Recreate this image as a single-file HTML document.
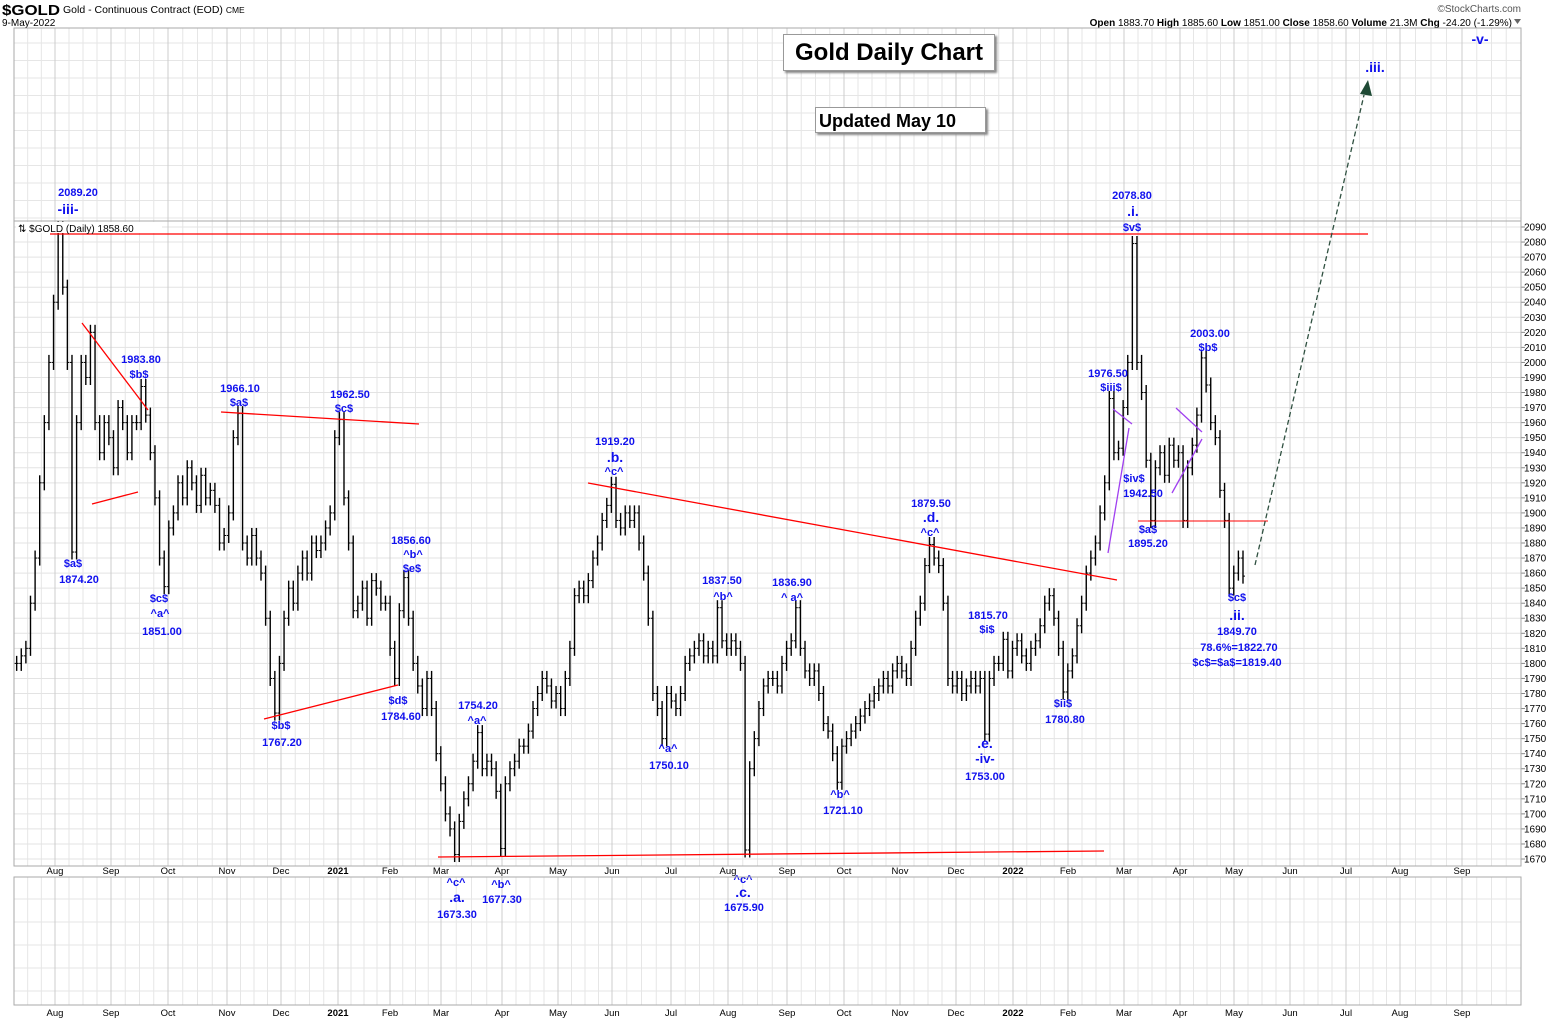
<!DOCTYPE html>
<html><head><meta charset="utf-8"><title>Gold Daily Chart</title>
<style>
body{margin:0;background:#fff;}
#wrap{position:relative;width:1565px;height:1021px;overflow:hidden;background:#fff;font-family:"Liberation Sans",sans-serif;}
svg{position:absolute;left:0;top:0;}
</style></head>
<body>
<div id="wrap">
<svg id="chart" width="1565" height="1021" xmlns="http://www.w3.org/2000/svg">
  <text x="2" y="15" font-family="Liberation Sans, sans-serif" font-weight="bold" font-size="15" textLength="58" lengthAdjust="spacingAndGlyphs" fill="#000">$GOLD</text>
  <text x="63" y="13" font-size="10.5" fill="#000">Gold - Continuous Contract (EOD) <tspan font-size="8.5">CME</tspan></text>
  <text x="2" y="26" font-size="10" fill="#000">9-May-2022</text>
  <text x="1521" y="12" font-size="10" fill="#555" text-anchor="end">©StockCharts.com</text>
  <text x="1512" y="26" font-size="10" fill="#000" text-anchor="end"><tspan font-weight="bold">Open</tspan> 1883.70  <tspan font-weight="bold">High</tspan> 1885.60  <tspan font-weight="bold">Low</tspan> 1851.00  <tspan font-weight="bold">Close</tspan> 1858.60  <tspan font-weight="bold">Volume</tspan> 21.3M  <tspan font-weight="bold">Chg</tspan> -24.20 (-1.29%)</text>
  <path d="M1514,19 L1521,19 L1517.5,24 Z" fill="#666"/>
  <g id="grid"></g>
  <g id="bars"></g>
  <g id="lines"></g>
  <g id="ann"></g>
  <g id="axes"></g>
</svg>
<div style="position:absolute;left:783px;top:34px;width:210px;height:35px;border:1px solid #999;box-shadow:2px 2px 2px #888;background:#fff;font-weight:bold;font-size:24px;line-height:35px;text-align:center;">Gold Daily Chart</div>
<div style="position:absolute;left:815px;top:107px;width:171px;height:26px;border:1px solid #999;box-shadow:2px 2px 2px #888;background:#fff;font-weight:bold;font-size:18px;line-height:26px;padding-left:3px;box-sizing:border-box;">Updated May 10</div>
</div>
<script>
// ---- data ----
const closes = [1790,1795,1800,1795,1805,1800,1800,1805,1810,1840,1870,1920,1960,2000,2040,2089,2050,2000,1874,1960,2000,1990,2020,1960,1940,1960,1950,1930,1970,1960,1940,1960,1960,1984,1965,1940,1910,1870,1851,1890,1900,1920,1910,1930,1920,1905,1925,1910,1915,1905,1880,1885,1900,1950,1966,1880,1870,1885,1870,1860,1830,1790,1767,1800,1830,1850,1840,1860,1870,1860,1880,1875,1880,1890,1900,1950,1962,1910,1880,1835,1840,1850,1830,1855,1850,1840,1840,1810,1790,1835,1857,1830,1800,1785,1770,1790,1770,1740,1720,1700,1690,1673,1695,1710,1720,1735,1754,1730,1735,1730,1715,1677,1720,1730,1735,1745,1745,1755,1770,1780,1790,1785,1775,1780,1770,1790,1810,1845,1850,1845,1855,1870,1880,1895,1905,1919,1895,1890,1900,1895,1900,1880,1860,1830,1780,1770,1750,1780,1775,1770,1780,1800,1805,1810,1815,1805,1810,1805,1837,1815,1810,1815,1810,1800,1676,1730,1750,1770,1785,1790,1790,1785,1800,1810,1815,1837,1810,1795,1790,1795,1780,1760,1755,1740,1721,1745,1750,1755,1760,1765,1770,1775,1780,1785,1790,1785,1795,1800,1795,1790,1810,1830,1840,1865,1879,1870,1865,1840,1790,1785,1790,1780,1785,1790,1785,1790,1753,1790,1800,1800,1816,1795,1810,1815,1805,1800,1810,1815,1825,1840,1845,1830,1810,1781,1795,1805,1825,1840,1860,1870,1880,1900,1920,1976,1940,1943,1970,2000,2079,2000,1980,1935,1895,1930,1940,1925,1945,1935,1940,1895,1930,1945,1965,2003,1985,1960,1950,1915,1895,1850,1860,1870,1858];
const priceTicks = [2090,2080,2070,2060,2050,2040,2030,2020,2010,2000,1990,1980,1970,1960,1950,1940,1930,1920,1910,1900,1890,1880,1870,1860,1850,1840,1830,1820,1810,1800,1790,1780,1770,1760,1750,1740,1730,1720,1710,1700,1690,1680,1670];
const monthLabels = ["Aug","Sep","Oct","Nov","Dec","2021","Feb","Mar","Apr","May","Jun","Jul","Aug","Sep","Oct","Nov","Dec","2022","Feb","Mar","Apr","May","Jun","Jul","Aug","Sep"];
const monthX = [55,111,168,227,281,338,390,441,502,558,612,671,728,787,844,900,956,1013,1068,1124,1180,1234,1290,1346,1400,1462];

// ---- scales ----
const X0=-11, X1=1243;
function xi(i){return X0+i*(X1-X0)/(closes.length-1);}
function y(p){return 227+(2090-p)*1.5048;}
const NS="http://www.w3.org/2000/svg";
function mk(tag,attrs,parent){const e=document.createElementNS(NS,tag);for(const k in attrs)e.setAttribute(k,attrs[k]);parent.appendChild(e);return e;}
const grid=document.getElementById('grid'),bars=document.getElementById('bars'),lines=document.getElementById('lines'),ann=document.getElementById('ann'),axes=document.getElementById('axes');

for(let m=0;m<monthX.length;m++){
  const a=monthX[m], b=(m+1<monthX.length)?monthX[m+1]:1521;
  for(let k=1;k<4;k++){const gx=a+(b-a)*k/4; if(gx<1521){
    let l=mk('line',{x1:gx,x2:gx,y1:28,y2:866,stroke:'#e6e6e6','stroke-width':1},grid);
    
    let l2=mk('line',{x1:gx,x2:gx,y1:877,y2:1005,stroke:'#e6e6e6','stroke-width':1},grid);
    }}
}
{const a=14,b=55;for(let k=1;k<3;k++){const gx=a+(b-a)*k/3;mk('line',{x1:gx,x2:gx,y1:28,y2:866,stroke:'#e6e6e6'},grid);mk('line',{x1:gx,x2:gx,y1:877,y2:1005,stroke:'#e6e6e6'},grid);}}
for(let gy=43;gy<221;gy+=17.5){const l=mk('line',{x1:14,x2:1521,y1:gy,y2:gy,stroke:'#e6e6e6'},grid);}
for(let gy=899;gy<1005;gy+=23){const l=mk('line',{x1:14,x2:1521,y1:gy,y2:gy,stroke:'#e6e6e6'},grid);}
priceTicks.forEach(p=>{
  const l=mk('line',{x1:14,x2:1521,y1:y(p),y2:y(p),stroke:'#e3e3e3'},grid);
  
  mk('line',{x1:1521,x2:1525,y1:y(p),y2:y(p),stroke:'#888'},axes);
  const t=mk('text',{x:1524,y:y(p)+3.5,'font-size':10,fill:'#000'},axes);t.textContent=p;
  
});
monthLabels.forEach((s,m)=>{
  const gx=monthX[m];
  const l=mk('line',{x1:gx,x2:gx,y1:28,y2:866,stroke:'#cccccc'},grid);
  
  mk('line',{x1:gx,x2:gx,y1:877,y2:1005,stroke:'#cccccc'},grid);
  const t=mk('text',{x:gx,y:874,'font-size':9.5,'text-anchor':'middle',fill:'#000','font-weight':s.length===4?'bold':'normal'},axes);t.textContent=s;
  
  const t2=mk('text',{x:gx,y:1016,'font-size':9.5,'text-anchor':'middle',fill:'#000','font-weight':s.length===4?'bold':'normal'},axes);t2.textContent=s;
  
});
let f=mk('rect',{x:14,y:28,width:1507,height:838,fill:'none',stroke:'#aaa'},axes);
f=mk('line',{x1:14,x2:1521,y1:221,y2:221,stroke:'#aaa'},axes);
f=mk('rect',{x:14,y:877,width:1507,height:128,fill:'none',stroke:'#aaa'},axes);
f=mk('rect',{x:16,y:222,width:146,height:11,fill:'#fff'},axes);
f=mk('text',{x:18,y:232,'font-size':10,fill:'#000'},axes);f.textContent='⇅ $GOLD (Daily) 1858.60';


closes.forEach((c,i)=>{
  const pv=i>0?closes[i-1]:c;
  const x=xi(i);
  if(x<16) return;
  const hi=Math.max(pv,c)+5, lo=Math.min(pv,c)-5;
  const b=mk('line',{x1:x,x2:x,y1:y(hi),y2:y(lo),stroke:'#000','stroke-width':1.4},bars);
  
  mk('line',{x1:x,x2:x+2,y1:y(c),y2:y(c),stroke:'#000','stroke-width':1},bars);
  mk('line',{x1:x-2,x2:x,y1:y(pv),y2:y(pv),stroke:'#000','stroke-width':1},bars);
});

function ln(x1,y1,x2,y2,col,name,w){const l=mk('line',{x1,y1,x2,y2,stroke:col,'stroke-width':w||1.3},lines);return l;}
ln(50,234,1368,234,'#f00','resistance-line');
ln(82,323,148,410,'#f00','trendline-1');
ln(92,504,138,492,'#f00','trendline-2');
ln(221,412,419,424,'#f00','trendline-3');
ln(264,719,398,685,'#f00','trendline-4');
ln(588,483,1117,580,'#f00','triangle-upper-line');
ln(438,857,1104,851,'#f00','triangle-lower-line');
ln(1138,521,1268,521,'#f00','support-line',1);
ln(1108,553,1129,428,'#a040f0','purple-line-1');
ln(1113,409,1132,424,'#a040f0','purple-line-2');
ln(1176,408,1202,432,'#a040f0','purple-line-3');
ln(1172,493,1202,439,'#a040f0','purple-line-4');
let ar=ln(1255,565,1364,95,'#2f5040','projection-arrow',1.3);ar.setAttribute('stroke-dasharray','5,3');
f=mk('path',{d:'M1368,80 L1360,94 L1372,96 Z',fill:'#1f4a35'},lines);

const anns=[
["2089.20",78,196,11],["-iii-",68,214,14],["1983.80",141,363,11],["$b$",139,378,11],["$a$",73,567,11],["1874.20",79,583,11],
["1966.10",240,392,11],["$a$",239,406,11],["1962.50",350,398,11],["$c$",344,412,11],["$c$",159,602,11],["^a^",160,617,11],["1851.00",162,635,11],
["1856.60",411,544,11],["^b^",413,558,11],["$e$",412,572,11],["$b$",281,729,11],["1767.20",282,746,11],["$d$",398,704,11],["1784.60",401,720,11],
["1919.20",615,445,11],[".b.",615,462,14],["^c^",614,475,11],["1754.20",478,709,11],["^a^",477,724,11],
["^c^",456,886,11],[".a.",457,902,14],["1673.30",457,918,11],["^b^",501,888,11],["1677.30",502,903,11],
["1837.50",722,584,11],["^b^",723,600,11],["1836.90",792,586,11],["^ a^",792,601,11],["^a^",668,752,11],["1750.10",669,769,11],
["^c^",743,883,11],[".c.",743,897,14],["1675.90",744,911,11],["^b^",840,798,11],["1721.10",843,814,11],
["1879.50",931,507,11],[".d.",931,522,14],["^c^",930,536,11],["1815.70",988,619,11],["$i$",987,633,11],
[".e.",985,748,14],["-iv-",985,763,13],["1753.00",985,780,11],["$ii$",1063,707,11],["1780.80",1065,723,11],
["1976.50",1108,377,11],["$iii$",1111,391,11],["$iv$",1134,482,11],["1942.50",1143,497,11],["$a$",1148,533,11],["1895.20",1148,547,11],
["2078.80",1132,199,11],[".i.",1133,216,14],["$v$",1132,231,11],["2003.00",1210,337,11],["$b$",1208,351,11],
["$c$",1237,601,11],[".ii.",1237,620,14],["1849.70",1237,635,11],["78.6%=1822.70",1239,651,11],["$c$=$a$=1819.40",1237,666,11],
[".iii.",1375,72,14],["-v-",1480,44,14]];
anns.forEach(a=>{const t=mk('text',{x:a[1],y:a[2],'font-size':a[3],'font-weight':'bold',fill:'#1010ee','text-anchor':'middle','font-family':'Liberation Sans, sans-serif'},ann);t.textContent=a[0];
});
</script>
</body></html>
